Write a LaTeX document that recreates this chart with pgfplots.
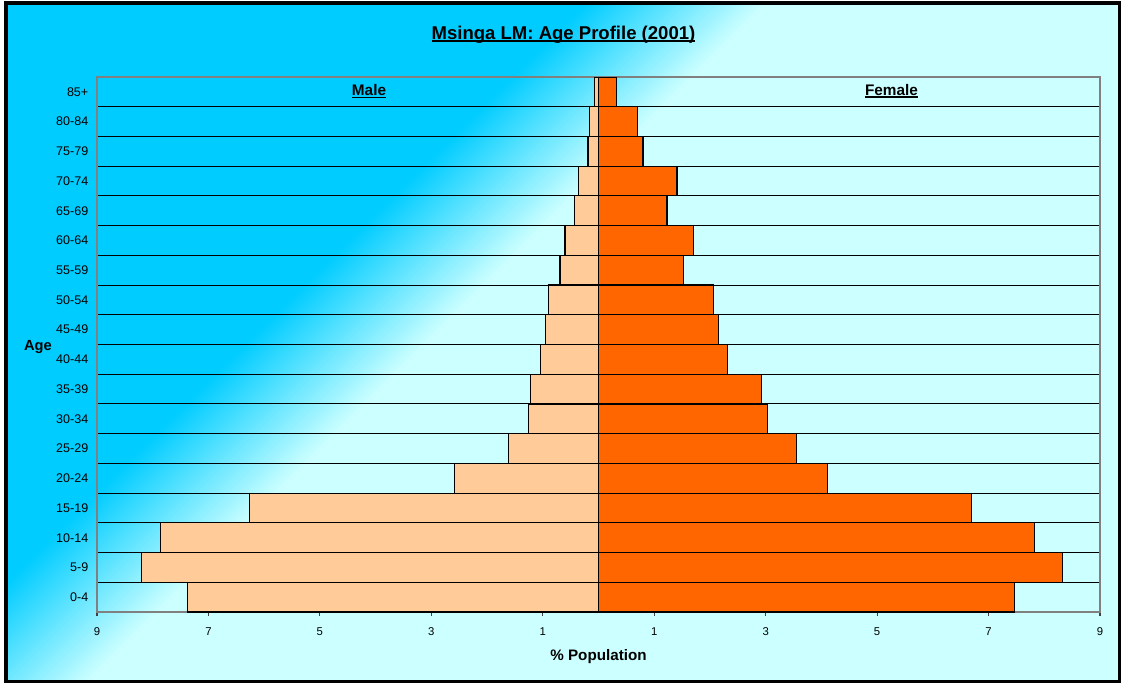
\documentclass[border=0pt]{standalone}
\usepackage{pgfplots}
\pgfplotsset{compat=1.18}
\usepackage{pgfplotstable}
\usepackage{fontspec}
\setmainfont{Liberation Sans}

\definecolor{skyblue}{RGB}{0,204,255}
\definecolor{paleaqua}{RGB}{204,255,255}
\definecolor{malefill}{RGB}{255,204,153}
\definecolor{femalefill}{RGB}{255,102,0}
\definecolor{framegray}{RGB}{128,128,128}

% underlined text with a thicker rule
\newcommand\ul[1]{\setbox0\hbox{#1}\rlap{\rule[-0.18em]{\wd0}{0.11em}}\box0}

% share of the population (%) per age group; male values negative (left side)
\pgfplotstableread{
idx  male    female
0    -7.37   7.46
1    -8.20   8.33
2    -7.86   7.83
3    -6.26   6.69
4    -2.59   4.11
5    -1.61   3.56
6    -1.26   3.03
7    -1.22   2.93
8    -1.04   2.32
9    -0.95   2.15
10   -0.90   2.07
11   -0.69   1.53
12   -0.60   1.70
13   -0.43   1.23
14   -0.36   1.41
15   -0.19   0.80
16   -0.16   0.70
17   -0.07   0.33
}\agedata

\begin{document}
\begin{tikzpicture}
\begin{scope}[x=0.75pt, y=-0.75pt]
  \useasboundingbox (0,0) rectangle (1121,683);
  \fill[white] (0,0) rectangle (1121,683);
  % diagonal two-tone background
  \begin{scope}
    \clip (6,3) rectangle (1119.5,681.5);
    \fill[skyblue] (0,0) rectangle (1121,683);
    \fill[paleaqua] (770,0) -- (1300,0) -- (1300,800) -- (-30,800) -- cycle;
    \foreach \s in {590,594,...,766} {
      \pgfmathsetmacro\t{(\s+2-590)/180*100}
      \fill[paleaqua!\t!skyblue] (\s,0) -- (\s+5,0) -- (\s+5-800,800) -- (\s-800,800) -- cycle;
    }
  \end{scope}
  \draw[black, line width=2.6pt] (6,3) rectangle (1119.5,681.5);

  \node[anchor=base, font=\bfseries\fontsize{13.9}{16}\selectfont] at (563.5,39) {\ul{Msinga LM: Age Profile (2001)}};
  \node[anchor=base, font=\bfseries\fontsize{11.5}{14}\selectfont] at (369,95.5) {\ul{Male}};
  \node[anchor=base, font=\bfseries\fontsize{11.5}{14}\selectfont] at (891.5,95) {\ul{Female}};
  \node[anchor=base, font=\bfseries\fontsize{11}{13}\selectfont] at (38,350) {Age};
  \node[anchor=base, font=\bfseries\fontsize{11.4}{13}\selectfont] at (598.5,660.5) {\% Population};
\end{scope}

\begin{axis}[
  at={(72.75pt,-459pt)}, anchor=south west,
  scale only axis, width=752.25pt, height=401.25pt,
  xmin=-9, xmax=9, ymin=-0.5, ymax=17.5,
  axis line style={framegray, line width=1pt},
  xtick={-9,-7,-5,-3,-1,1,3,5,7,9},
  xticklabels={9,7,5,3,1,1,3,5,7,9},
  xtick pos=bottom, xtick align=outside, major tick length=3pt,
  x tick style={black!75, line width=0.8pt},
  ytick={0,...,17},
  yticklabels={0-4,5-9,10-14,15-19,20-24,25-29,30-34,35-39,40-44,45-49,50-54,55-59,60-64,65-69,70-74,75-79,80-84,85+},
  ytick pos=left,
  y tick style={draw=none},
  minor ytick={0.5,1.5,...,16.5},
  minor tick length=0pt,
  yminorgrids=true,
  minor grid style={black, line width=0.8pt},
  xticklabel style={font=\fontsize{8.5}{10}\selectfont, yshift=-5pt},
  yticklabel style={font=\fontsize{9.4}{11}\selectfont, xshift=-3pt},
  /pgf/number format/assume math mode=true,
]
\addplot[xbar, bar shift=0pt, bar width=1, fill=malefill, draw=black, line width=0.9pt]
  table[x=male, y=idx] \agedata;
\addplot[xbar, bar shift=0pt, bar width=1, fill=femalefill, draw=black, line width=0.9pt]
  table[x=female, y=idx] \agedata;
\end{axis}
\end{tikzpicture}
\end{document}
